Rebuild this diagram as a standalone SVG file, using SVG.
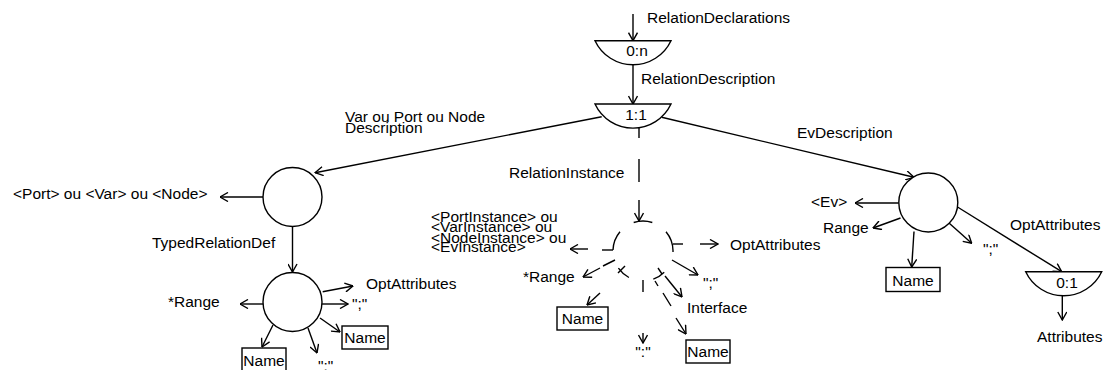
<svg xmlns="http://www.w3.org/2000/svg" width="1106" height="370" viewBox="0 0 1106 370">
<defs>
<marker id="ah" viewBox="0 0 10 10" refX="9.5" refY="5" markerWidth="10" markerHeight="10" markerUnits="userSpaceOnUse" orient="auto">
<path d="M1.5,0.5 L9.5,5 L1.5,9.5" fill="none" stroke="#000" stroke-width="1.4"/>
</marker>
</defs>
<style>
text{font-family:"Liberation Sans",Arial,Helvetica,sans-serif;font-size:15.5px;fill:#000}
.m{text-anchor:middle}
.s{fill:#fff;stroke:#000;stroke-width:1.4}
.l{fill:none;stroke:#000;stroke-width:1.4}
.a{fill:none;stroke:#000;stroke-width:1.4;marker-end:url(#ah)}
.b{fill:#fff;stroke:#000;stroke-width:1.4}
</style>
<rect width="1106" height="370" fill="#fff"/>

<g id="connectors">
<path class="a" d="M633,14 V40.7"/>
<path class="a" d="M633,64.8 V104"/>
<path class="a" d="M601.7,116.7 L315,172.7"/>
<path class="a" d="M661.7,117.3 L914,177.3"/>
<path class="a" d="M263,197 H220"/>
<path class="a" d="M292.5,226.5 V272"/>
<path class="a" d="M263,304 H240"/>
<path class="a" d="M322.7,291.7 L353,286"/>
<path class="a" d="M322,304 H348"/>
<path class="a" d="M320,318 L340,332"/>
<path class="a" d="M308,328 L317,353"/>
<path class="a" d="M273,325 L262,347"/>
<path class="a" d="M898.8,203 H855"/>
<path class="a" d="M900.5,218 L873,228"/>
<path class="a" d="M914,231.5 L911.7,267"/>
<path class="a" d="M949,223 L971.7,243.3"/>
<path class="a" d="M957.5,207 L1061.7,271.7"/>
<path class="a" d="M1062.3,295.7 V320"/>
<!-- dashed relation instance branch -->
<path class="l" d="M639,128 V138 M639,159 V182"/>
<path class="a" d="M639,200 V221"/>
<path class="l" d="M613,250 H602"/>
<path class="a" d="M588,249 H570"/>
<path class="l" d="M673,244 H683"/>
<path class="a" d="M700,244 H718"/>
<path class="l" d="M615,260 L603,266"/>
<path class="a" d="M600,268 L583,277"/>
<path class="l" d="M625,266 L618,273"/>
<path class="a" d="M600,293 L587,305"/>
<path class="l" d="M643,280 V292"/>
<path class="a" d="M643,333 V343"/>
<path class="l" d="M658,268 L662,274"/>
<path class="a" d="M665,276 L682,297"/>
<path class="l" d="M655,281 L658,286 M663,293 L671,306"/>
<path class="a" d="M676,318 L686,334"/>
<path class="a" d="M672,260 L698,275"/>
</g>

<g id="node-decl">
<path class="s" d="M595,40.7 H671 A42,42 0 0 1 595,40.7 Z"/>
<text class="m" x="637" y="56">0:n</text>
<text x="647" y="23">RelationDeclarations</text>
</g>

<g id="node-desc">
<path class="s" d="M595,104 H671 A42,42 0 0 1 595,104 Z"/>
<text class="m" x="636" y="120">1:1</text>
<text x="641" y="84">RelationDescription</text>
</g>

<g id="node-var">
<circle class="s" cx="292.5" cy="197" r="29.5"/>
<text x="345" y="122">Var ou Port ou Node</text>
<text x="345" y="133">Description</text>
<text x="13" y="198.5">&lt;Port&gt; ou &lt;Var&gt; ou &lt;Node&gt;</text>
</g>

<g id="node-typed">
<circle class="s" cx="292.5" cy="302" r="29.5"/>
<text x="152" y="248">TypedRelationDef</text>
<text x="366" y="289">OptAttributes</text>
<text x="168" y="307">*Range</text>
<text x="352" y="309">";"</text>
<text x="318" y="371">":"</text>
</g>
<g id="node-typed-name1">
<rect class="b" x="342" y="326" width="46" height="23"/>
<text class="m" x="365" y="343">Name</text>
</g>
<g id="node-typed-name2">
<rect class="b" x="242" y="348" width="44" height="24"/>
<text class="m" x="264" y="366">Name</text>
</g>

<g id="node-inst">
<path class="l" d="M633.7,222.5 A30,30 0 0 1 652.3,222.5 M620,231.7 A30,30 0 0 0 613,250 M666,231.7 A30,30 0 0 1 673,252 M628.9,277.5 A30,30 0 0 1 618.4,268.2 M664.2,272.2 A30,30 0 0 1 653.3,279.2"/>
<text x="509" y="178">RelationInstance</text>
<text x="431" y="222">&lt;PortInstance&gt; ou</text>
<text x="431" y="232">&lt;VarInstance&gt; ou</text>
<text x="431" y="242.5">&lt;NodeInstance&gt; ou</text>
<text x="431" y="252">&lt;EvInstance&gt;</text>
<text x="730" y="250">OptAttributes</text>
<text x="523" y="282">*Range</text>
<text x="703" y="288">";"</text>
<text x="687" y="313">Interface</text>
<text class="m" x="643" y="357">":"</text>
</g>
<g id="node-inst-name1">
<rect class="b" x="557" y="307" width="51" height="23"/>
<text class="m" x="582.5" y="324">Name</text>
</g>
<g id="node-inst-name2">
<rect class="b" x="686" y="340" width="44" height="23"/>
<text class="m" x="708" y="357">Name</text>
</g>

<g id="node-ev">
<circle class="s" cx="928.3" cy="202.5" r="29.5"/>
<text x="797" y="138">EvDescription</text>
<text x="811" y="207">&lt;Ev&gt;</text>
<text x="823" y="233">Range</text>
<text x="983" y="254">";"</text>
<text x="1010" y="230">OptAttributes</text>
</g>
<g id="node-ev-name">
<rect class="b" x="886" y="267.5" width="54" height="24"/>
<text class="m" x="913" y="285.5">Name</text>
</g>

<g id="node-attr">
<path class="s" d="M1025.7,271.7 H1101.7 A42,42 0 0 1 1025.7,271.7 Z"/>
<text class="m" x="1067" y="288">0:1</text>
<text x="1037" y="342">Attributes</text>
</g>
</svg>
